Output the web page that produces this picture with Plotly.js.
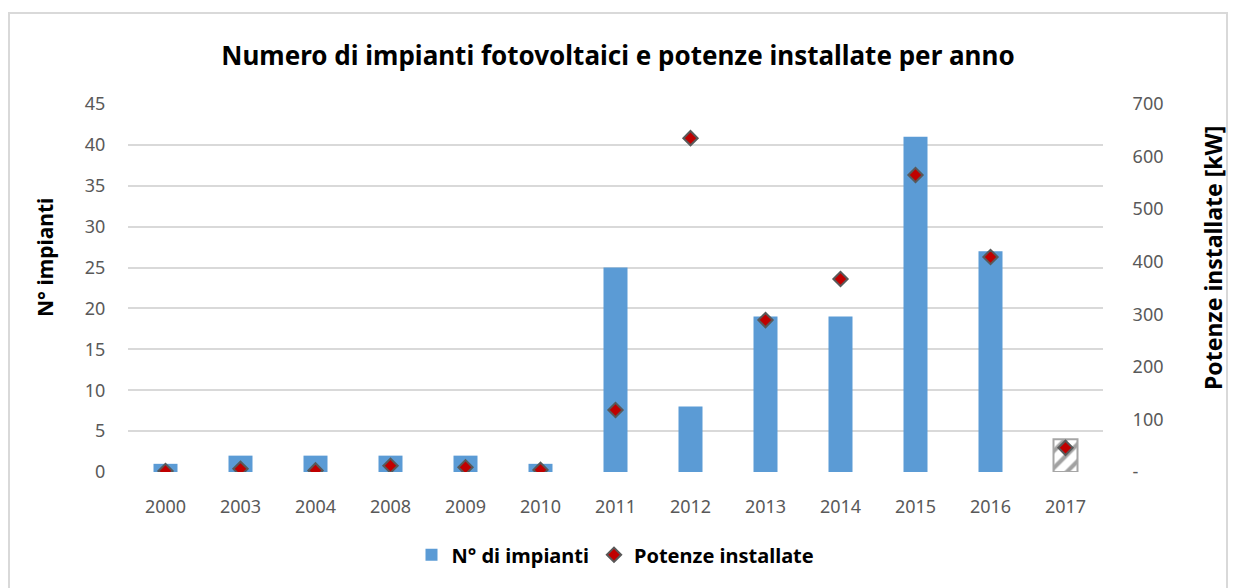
<!DOCTYPE html>
<html><head><meta charset="utf-8">
<script src="https://cdn.plot.ly/plotly-3.0.1.min.js"></script>
<style>
html,body{margin:0;padding:0;background:#fff;}
#frame{position:absolute;left:8px;top:12px;width:1220px;height:600px;border:2px solid #d9d9d9;box-sizing:border-box;}
#chart{position:absolute;left:0;top:0;width:1236px;height:588px;}
</style></head>
<body>
<div id="frame"></div>
<div id="chart"></div>
<script>
const years = ['2000','2003','2004','2008','2009','2010','2011','2012','2013','2014','2015','2016','2017'];
const nImpianti = [1,2,2,2,2,1,25,8,19,19,41,27,4];
const potenzeKW = [2,6,3,12,9,4,118,635,289,367,565,409,46];
const leftTicks = [0,5,10,15,20,25,30,35,40,45];
const rightTicks = [0,100,200,300,400,500,600,700];
const rightTickText = ['-','100','200','300','400','500','600','700'];

const blue = '#5b9bd5';
const isLast = years.map((y,i)=> i===years.length-1);
const font = "Noto Sans, Open Sans, sans-serif";

const bars = {
  type:'bar', x:years, y:nImpianti, name:'N° di impianti', yaxis:'y',
  marker:{
    color: isLast.map(l=> l ? '#ffffff' : blue),
    line:{color: isLast.map(l=> l ? '#a6a6a6' : blue), width: isLast.map(l=> l ? 2 : 0)},
    pattern:{shape: isLast.map(l=> l ? '/' : ''), fgcolor:'#d0d0d0', bgcolor:'#ffffff', fillmode:'overlay', size:12, solidity:0.35}
  },
  hoverinfo:'x+y'
};
const pts = {
  type:'scatter', mode:'markers', x:years, y:potenzeKW, name:'Potenze installate', yaxis:'y2',
  marker:{symbol:'diamond', size:11, color:'#c00000', line:{color:'#595959', width:2}}
};

const layout = {
  width:1236, height:588,
  margin:{l:128, r:133, t:104, b:116},
  paper_bgcolor:'rgba(0,0,0,0)', plot_bgcolor:'rgba(0,0,0,0)',
  bargap:0.68,
  font:{family:font, color:'#595959', size:18},
  title:{text:'Numero di impianti fotovoltaici e potenze installate per anno', x:0.5, xanchor:'center', y:0.905, yanchor:'middle',
    font:{family:font, size:26, color:'#000000', weight:'bold'}},
  xaxis:{type:'category', range:[-0.5,12.5], tickfont:{size:18, color:'#595959'}, ticks:'outside', ticklen:18, tickcolor:'rgba(0,0,0,0)', showline:false, showgrid:false, zeroline:false},
  yaxis:{range:[0,45], tickvals:leftTicks, showgrid:true, gridcolor:'#d9d9d9', gridwidth:1.5, zeroline:false,
    ticks:'outside', ticklen:18, tickcolor:'rgba(0,0,0,0)', tickfont:{size:18, color:'#595959'}},
  yaxis2:{range:[0,700], overlaying:'y', side:'right', tickvals:rightTicks, ticktext:rightTickText, showgrid:false, zeroline:false,
    ticks:'outside', ticklen:25, tickcolor:'rgba(0,0,0,0)', tickfont:{size:18, color:'#595959'}},
  annotations:[
    {text:'N° impianti', xref:'paper', yref:'paper', x:-0.0851, y:0.5815, xanchor:'center', yanchor:'middle', textangle:-90, showarrow:false,
      font:{family:font, size:21, color:'#000000', weight:'bold'}},
    {text:'Potenze installate [kW]', xref:'paper', yref:'paper', x:1.1128, y:0.5815, xanchor:'center', yanchor:'middle', textangle:-90, showarrow:false,
      font:{family:font, size:23, color:'#000000', weight:'bold'}}
  ],
  legend:{orientation:'h', x:0.5, xanchor:'center', y:-0.225, yanchor:'middle', font:{size:20, color:'#000000', weight:'bold'}, traceorder:'normal'},
  showlegend:true
};
Plotly.newPlot('chart',[bars,pts],layout,{displayModeBar:false});
</script>
</body></html>
